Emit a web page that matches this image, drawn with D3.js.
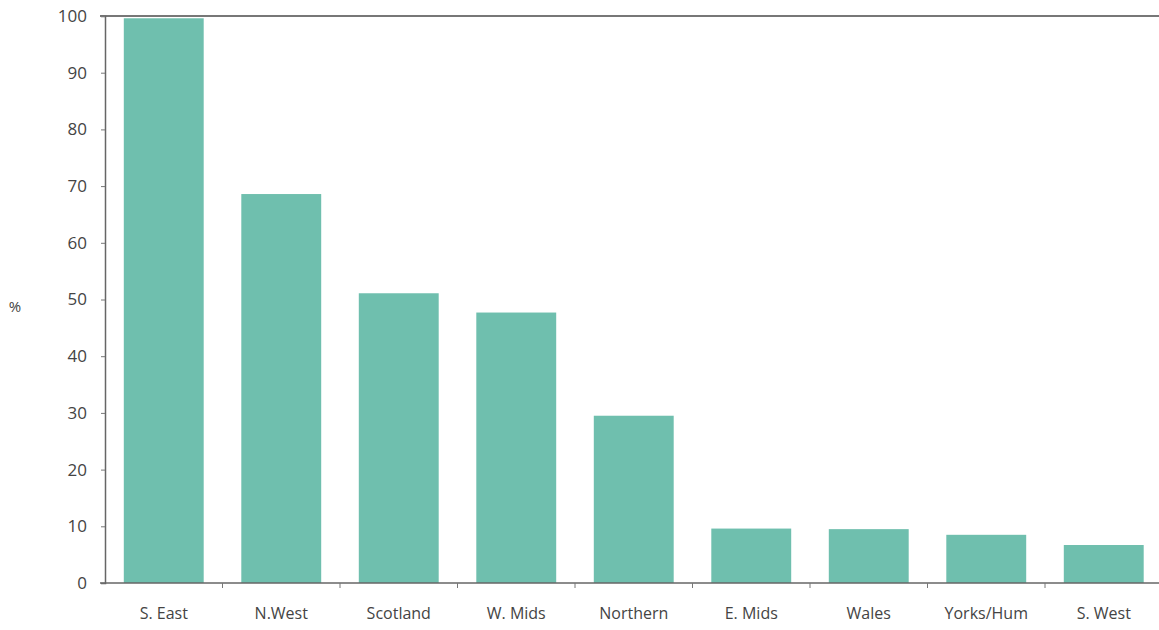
<!DOCTYPE html>
<html><head><meta charset="utf-8">
<script src="https://cdn.jsdelivr.net/npm/d3@7"></script>
<style>body{margin:0;background:#fff}svg{display:block}text{font-family:"Open Sans",sans-serif}</style>
</head><body><svg id="c" width="1159" height="630"></svg>
<script>
const categories = ["S. East","N.West","Scotland","W. Mids","Northern","E. Mids","Wales","Yorks/Hum","S. West"];
const values = [99.6,68.6,51.1,47.7,29.5,9.6,9.5,8.5,6.7];
const yTicks = [0,10,20,30,40,50,60,70,80,90,100];
const yLabel = "%";

const svg = d3.select("#c");
const x0 = 105, x1 = 1162.5, yTop = 16, yBot = 583;
const x = d3.scaleBand().domain(categories).range([x0, x1]).paddingInner(0.32).paddingOuter(0.16);
const y = d3.scaleLinear().domain([0,100]).range([yBot, yTop]);

svg.selectAll("rect.bar").data(categories).join("rect")
  .attr("class","bar")
  .attr("x", d => x(d)).attr("width", x.bandwidth())
  .attr("y", (d,i) => y(values[i])).attr("height", (d,i) => y(0) - y(values[i]))
  .attr("fill", "#6fbfae");

// top frame line
svg.append("line").attr("x1", 100).attr("x2", 1159).attr("y1", y(100)).attr("y2", y(100))
  .attr("stroke", "#777").attr("stroke-width", 2);

// y axis
const ya = svg.append("g").attr("transform", `translate(${x0},0)`)
  .call(d3.axisLeft(y).tickValues(yTicks).tickSize(4).tickPadding(14));
ya.select(".domain").attr("stroke", "#666").attr("stroke-width", 1.5);
ya.selectAll(".tick line").attr("stroke", "#777");
ya.selectAll(".tick text").attr("font-size", 17).attr("fill", "#444").attr("font-family", '"Open Sans",sans-serif');

// x axis
const xa = svg.append("g").attr("transform", `translate(0,${yBot})`)
  .call(d3.axisBottom(x).tickSize(0).tickPadding(25));
xa.select(".domain").remove();
xa.selectAll(".tick text").attr("font-size", 16).attr("fill", "#444").attr("font-family", '"Open Sans",sans-serif');
svg.append("line").attr("x1", 100).attr("x2", 1159).attr("y1", yBot).attr("y2", yBot)
  .attr("stroke", "#666").attr("stroke-width", 1.5);
// tick marks between bands
svg.selectAll("line.xt").data(categories.slice(1)).join("line").attr("class","xt")
  .attr("x1", d => x(d) - x.step()*x.paddingInner()/2).attr("x2", d => x(d) - x.step()*x.paddingInner()/2)
  .attr("y1", yBot).attr("y2", yBot + 5).attr("stroke", "#777");

svg.append("text").attr("x", 15).attr("y", 312).attr("font-size", 15).attr("fill", "#444")
  .attr("text-anchor", "middle").text(yLabel);
</script></body></html>
